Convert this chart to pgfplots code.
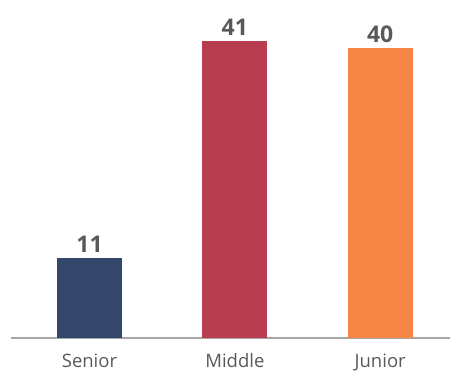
\documentclass[border=0pt]{standalone}
\usepackage{pgfplots}
\pgfplotsset{compat=1.18}
\usepackage{fontspec}
\setmainfont{Open Sans}
\definecolor{cnavy}{HTML}{34466B}
\definecolor{cred}{HTML}{B83D50}
\definecolor{corange}{HTML}{F58646}
\definecolor{ctext}{HTML}{595959}
\definecolor{caxis}{HTML}{A6A6A6}
\begin{document}
\begin{tikzpicture}[x=1pt,y=1pt]
\begin{axis}[
  at={(0pt,0pt)}, anchor=south west,
  scale only axis,
  width=439pt, height=338pt,
  xmin=-0.54, xmax=2.48,
  ymin=0, ymax=46.7,
  axis x line*=bottom,
  axis y line=none,
  x axis line style={draw=caxis, line width=1.2pt, -},
  xtick={0,1,2},
  xticklabels={Senior,Middle,Junior},
  xtick style={draw=none},
  x tick label style={font=\fontsize{18.5}{21}\selectfont, text=ctext, yshift=-12pt},
  ytick=\empty,
  bar width=65pt,
  /pgf/number format/assume math mode=true,
  nodes near coords,
  every node near coord/.append style={font=\bfseries\fontsize{23}{26}\selectfont, text=ctext, yshift=2.5pt},
  clip=false,
]
\addplot[ybar, fill=cnavy, draw=none] coordinates {(0,11)};
\addplot[ybar, fill=cred, draw=none] coordinates {(1,41)};
\addplot[ybar, fill=corange, draw=none] coordinates {(2,40)};
\end{axis}
\pgfresetboundingbox
\path[use as bounding box] (-11pt,-34pt) rectangle (439pt,338pt);
\end{tikzpicture}
\end{document}
